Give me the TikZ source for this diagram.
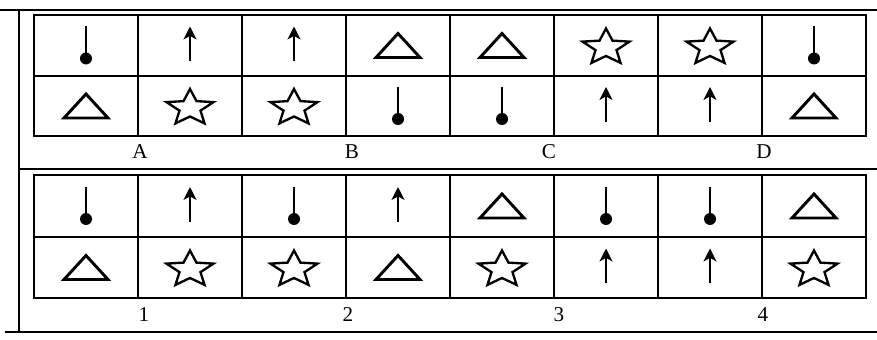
\documentclass[tikz,border=0pt]{standalone}
\usepackage{fontspec}
\setmainfont{Liberation Serif}
\usetikzlibrary{arrows.meta}

\tikzset{
  symline/.style={line width=2.3pt},
  lbl/.style={font=\fontsize{18}{20}\selectfont},
  pinmark/.pic={
    \draw[symline] (0,19) -- (0,-10);
    \fill (0,-13) circle (6);
  },
  arrowmark/.pic={
    \draw[symline,-{Stealth[length=11pt,width=11pt,inset=3pt]}] (0,-16) -- (0,19);
  },
  trimark/.pic={
    \draw[line width=2.5pt,line join=miter] (-22,-12) -- (0,12) -- (22,-12) -- cycle;
  },
  starmark/.pic={
    \draw[line width=2pt,shift={(0,-2)},xscale=1.3] (0,19)
      \foreach \k in {1,...,9} { -- ({90+36*\k}:{mod(\k,2)==0 ? 19 : 8.5}) } -- cycle;
  }
}

\begin{document}
\begin{tikzpicture}[x=0.03cm,y=0.03cm]
  \useasboundingbox (0,0) rectangle (877,339);
  % page rules
  \draw[line width=1.8pt] (0,329) -- (877,329);
  \draw[line width=1.8pt] (19,170) -- (877,170);
  \draw[line width=1.8pt] (5,7) -- (877,7);
  \draw[line width=1.8pt] (19,329) -- (19,7);
  % upper set
  \draw[line width=2.2pt] (34,203) rectangle (866,324);
  \draw[line width=1.7pt] (34,263) -- (866,263);
  \foreach \x in {138,242,...,762}
    \draw[line width=1.7pt] (\x,203) -- (\x,324);
  \foreach \i/\up/\dn in {0/pinmark/trimark,1/arrowmark/starmark,
      2/arrowmark/starmark,3/trimark/pinmark,4/trimark/pinmark,
      5/starmark/arrowmark,6/starmark/arrowmark,7/pinmark/trimark} {
    \pic (a\i) at ({86+104*\i},293.5) {\up};
    \pic (b\i) at ({86+104*\i},233) {\dn};
  }
  \foreach \t/\x in {A/140,B/352,C/549,D/764}
    \node[lbl] (lab\t) at (\x,187) {\t};
  % lower set
  \draw[line width=2.2pt] (34,41) rectangle (866,164);
  \draw[line width=1.7pt] (34,102) -- (866,102);
  \foreach \x in {138,242,...,762}
    \draw[line width=1.7pt] (\x,41) -- (\x,164);
  \foreach \i/\up/\dn in {0/pinmark/trimark,1/arrowmark/starmark,
      2/pinmark/starmark,3/arrowmark/trimark,4/trimark/starmark,
      5/pinmark/arrowmark,6/pinmark/arrowmark,7/trimark/starmark} {
    \pic (c\i) at ({86+104*\i},133) {\up};
    \pic (d\i) at ({86+104*\i},71.5) {\dn};
  }
  \foreach \t/\x in {1/144,2/348,3/559,4/763}
    \node[lbl] (lab\t) at (\x,24) {\t};
\end{tikzpicture}
\end{document}
